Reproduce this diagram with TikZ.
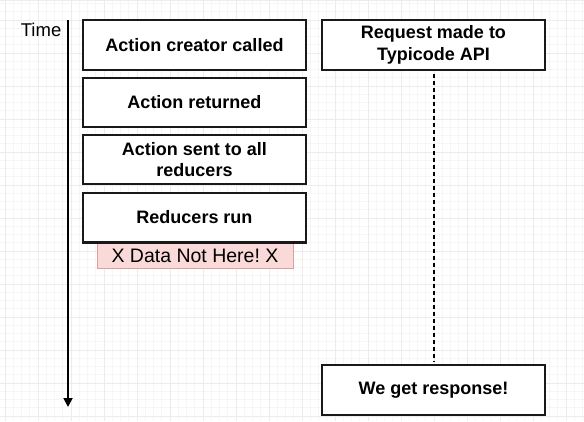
\documentclass[tikz,border=0pt]{standalone}
\usepackage{fontspec}
\setmainfont{Liberation Sans}
\usetikzlibrary{arrows.meta}
\frenchspacing
\definecolor{gridminor}{RGB}{246,246,246}
\definecolor{gridmajor}{RGB}{236,236,236}
\definecolor{pinkfill}{RGB}{249,218,216}
\definecolor{pinkline}{RGB}{218,160,155}
\begin{document}
\begin{tikzpicture}[x=1pt,y=-1pt,
  stepbox/.style={draw=black!90,line width=1.5pt,fill=white,minimum width=223pt,minimum height=50pt,
    inner sep=0pt,align=center,font=\fontsize{18}{21.5}\selectfont\bfseries},
  warnbox/.style={draw=pinkline,line width=1pt,fill=pinkfill,minimum width=196pt,minimum height=25pt,
    inner sep=0pt,font=\fontsize{19.5}{22}\selectfont},
  label/.style={inner sep=0pt,font=\fontsize{18.5}{20}\selectfont}]
\useasboundingbox (0,0) rectangle (584,421);
\fill[white] (0,0) rectangle (584,421);
% grid
\foreach \i in {0,...,72} {
  \draw[gridminor,line width=0.8pt] ({-3.25+8.25*\i},0) -- ({-3.25+8.25*\i},421);
}
\foreach \i in {0,...,52} {
  \draw[gridminor,line width=0.8pt] (0,{-4.75+8.25*\i}) -- (584,{-4.75+8.25*\i});
}
\foreach \i in {0,...,18} {
  \draw[gridmajor,line width=1pt] ({-28+33*\i},0) -- ({-28+33*\i},421);
}
\foreach \i in {0,...,13} {
  \draw[gridmajor,line width=1pt] (0,{-13+33*\i}) -- (584,{-13+33*\i});
}
\draw[gridmajor,line width=2pt] (0,0) -- (584,0);
% time axis
\node[label,anchor=base east] (time) at (61.5,36) {Time};
\coordinate (axtop) at (68,20);
\coordinate (axbot) at (68,407);
\draw[line width=1.8pt,-{Triangle[length=9pt,width=9pt]}] (axtop) -- (axbot);
% left column
\node[stepbox] (b1) at (194.5,45) {Action creator called};
\node[stepbox,minimum height=49pt] (b2) at (194.5,102.5) {Action returned};
\node[stepbox,minimum height=49pt] (b3) at (194.5,159.5) {Action sent to all\\reducers};
\node[stepbox,minimum height=49pt] (b4) at (194.5,217.5) {Reducers run};
\node[warnbox,anchor=north] (warn) at (195,242.5) {X Data Not Here! X};
\draw[draw=black!90,line width=1.5pt] (b4.south west) -- (b4.south east);
% right column
\node[stepbox] (r1) at (433.5,45) {Request made to\\Typicode API};
\node[stepbox] (r2) at (433.5,390) {We get response!};
\draw[line width=2pt,dash pattern=on 4pt off 3pt] ([yshift=-3pt]r1.south) -- ([yshift=3pt]r2.north);
\end{tikzpicture}
\end{document}
